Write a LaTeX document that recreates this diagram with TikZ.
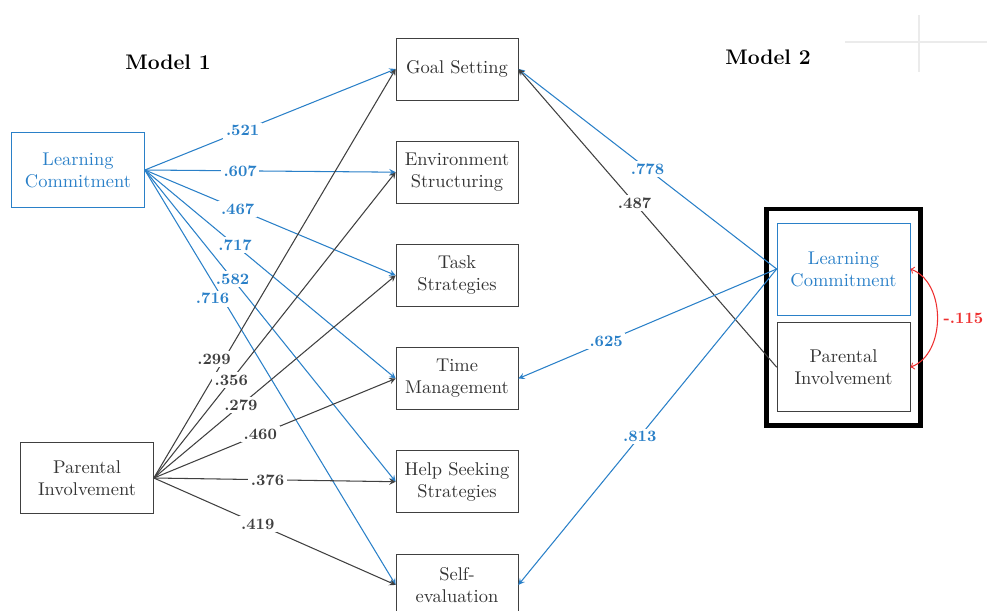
\documentclass[tikz,border=0pt]{standalone}
\usetikzlibrary{positioning, fit}
\definecolor{lcblue}{RGB}{42,128,200}
\definecolor{corred}{RGB}{238,48,48}

\begin{document}
\begin{tikzpicture}[x=0.02cm, y=-0.02cm, box/.style={rectangle,draw=black!75,text=black!80,minimum width=2.44cm,minimum height=1.24cm,align=center,font=\fontsize{10.5}{12.5}\selectfont}, node distance = 0.81cm, lcbox/.style={box,draw=lcblue,text=lcblue,minimum width=2.66cm}, pibox/.style={box,minimum width=2.66cm}, coef/.style={fill=white,font=\bfseries\small,inner sep=1.5pt}, lcpath/.style={->,>=stealth,lcblue,line width=0.6pt}, pipath/.style={->,>=stealth,black!75,line width=0.6pt}]
\useasboundingbox (0,0) rectangle (987,611);
\draw [black!8, line width=1pt] (845,42) -- (987,42);
\draw [black!8, line width=1pt] (919,15) -- (919,72);
\node (t1) at (168,62) {\large\bfseries Model 1};
\node (t2) at (768,57) {\large\bfseries Model 2};
\node (lc1) [lcbox, minimum height=1.5cm] at (78,170) {Learning\\Commitment};
\node (pi1) [pibox, minimum height=1.42cm] at (87,478) {Parental\\Involvement};
\node (b1) [box] at (457,69) {Goal Setting};
\node (b2) [box, below=of b1] {Environment\\Structuring};
\node (b3) [box, below=of b2] {Task\\Strategies};
\node (b4) [box, below=of b3] {Time\\Management};
\node (b5) [box, below=of b4] {Help Seeking\\Strategies};
\node (b6) [box, below=of b5] {Self-\\evaluation};
\node (lc2) [lcbox, minimum height=1.84cm] at (843.5,269) {Learning\\Commitment};
\node (pi2) [pibox, minimum height=1.78cm, below=0.14cm of lc2] {Parental\\Involvement};
\node (m2) [draw, line width=2.5pt, inner xsep=0.2cm, inner ysep=0.27cm, fit=(lc2)(pi2)] {};
  \begin{scope}
    \draw [lcpath] (lc1.east) -- node[coef, pos=0.39]{.521} (b1.west);
    \draw [lcpath] (lc1.east) -- node[coef, pos=0.38]{.607} (b2.west);
    \draw [lcpath] (lc1.east) -- node[coef, pos=0.37]{.467} (b3.west);
    \draw [lcpath] (lc1.east) -- node[coef, pos=0.36]{.717} (b4.west);
    \draw [lcpath] (lc1.east) -- node[coef, pos=0.35]{.582} (b5.west);
    \draw [lcpath] (lc1.east) -- node[coef, pos=0.31, xshift=-0.2cm]{.716} (b6.west);
    \draw [pipath] (pi1.east) -- node[coef, pos=0.29, xshift=-0.2cm]{.299} (b1.west);
    \draw [pipath] (pi1.east) -- node[coef, pos=0.32]{.356} (b2.west);
    \draw [pipath] (pi1.east) -- node[coef, pos=0.36]{.279} (b3.west);
    \draw [pipath] (pi1.east) -- node[coef, pos=0.44]{.460} (b4.west);
    \draw [pipath] (pi1.east) -- node[coef, pos=0.47]{.376} (b5.west);
    \draw [pipath] (pi1.east) -- node[coef, pos=0.43]{.419} (b6.west);
    \draw [lcpath] (lc2.west) -- node[coef, pos=0.5]{.778} (b1.east);
    \draw [pipath] (pi2.west) -- node[coef, pos=0.55]{.487} (b1.east);
    \draw [lcpath] (lc2.west) -- node[coef, pos=0.66]{.625} (b4.east);
    \draw [lcpath] (lc2.west) -- node[coef, pos=0.53]{.813} (b6.east);
    \draw [<->, >=to, corred, line width=0.6pt] (lc2.east) to[bend left=70] node[right, font=\bfseries\small]{-.115} (pi2.east);
  \end{scope}
\end{tikzpicture}
\end{document}
